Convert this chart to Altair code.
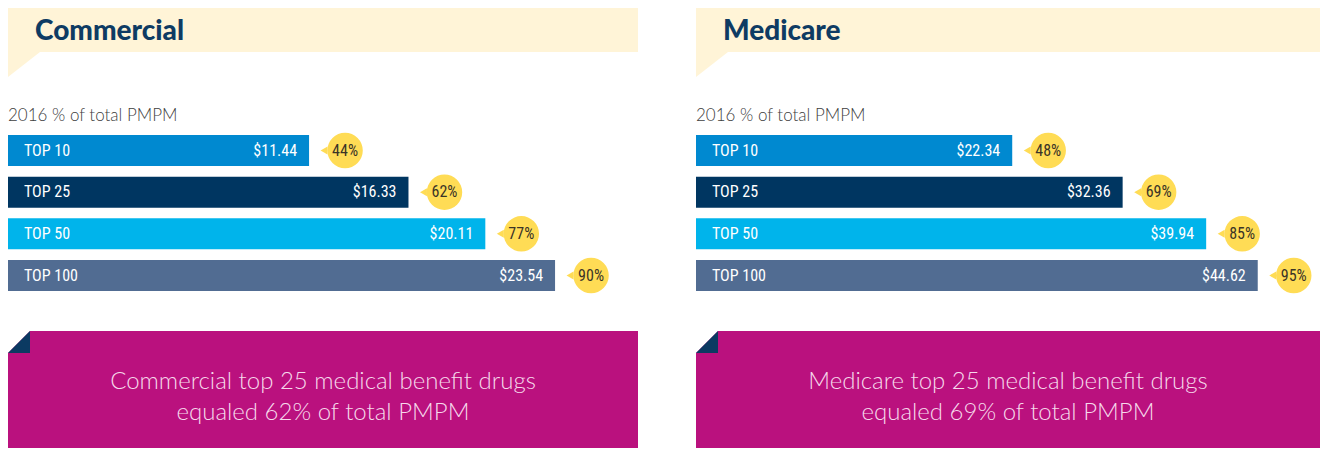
import altair as alt
import pandas as pd

# ---- data ----
tiers = ["TOP 10", "TOP 25", "TOP 50", "TOP 100"]
commercial_pmpm = [11.44, 16.33, 20.11, 23.54]
commercial_share = [44, 62, 77, 90]
medicare_pmpm = [22.34, 32.36, 39.94, 44.62]
medicare_share = [48, 69, 85, 95]
panel_titles = ["Commercial", "Medicare"]
subtitle_text = "2016 % of total PMPM"
callout_lines = [
    ["Commercial top 25 medical benefit drugs", "equaled 62% of total PMPM"],
    ["Medicare top 25 medical benefit drugs", "equaled 69% of total PMPM"],
]

# ---- styles ----
bar_colors = ["#0089D0", "#003661", "#00B4EB", "#516C92"]
BAND = "#FFF4D7"
NAVY = "#0E3B63"
BADGE = "#FFDC55"
PINK = "#BA117E"
COND = "'Liberation Sans Narrow', 'Roboto Condensed', Roboto, sans-serif"
GEO = "Lato, 'Open Sans', sans-serif"


def panel(title, pmpm, share, lines, width, dom):
    df = pd.DataFrame({"tier": tiers, "pmpm": pmpm, "share": share})
    df["dollar"] = df["pmpm"].map(lambda v: f"${v:.2f}")
    df["pct"] = df["share"].map(lambda v: f"{v}%")
    one = pd.DataFrame({"title": [title], "sub": [subtitle_text],
                        "l1": [lines[0]], "l2": [lines[1]]})
    deco = alt.Chart(one)

    # header block (height 127)
    band = deco.mark_rect(color=BAND).encode(
        x=alt.value(0), x2=alt.value(width), y=alt.value(0), y2=alt.value(44))
    tail = deco.mark_point(shape="M-1,-0.78L-1,0.78L1,-0.78Z", filled=True, color=BAND,
                           opacity=1, size=1024, strokeWidth=0).encode(
        x=alt.value(16), y=alt.value(56.5))
    ttl = deco.mark_text(align="left", baseline="alphabetic", font=GEO, fontSize=28,
                         fontWeight=900, color=NAVY).encode(
        x=alt.value(27), y=alt.value(32), text="title:N")
    sub = deco.mark_text(align="left", baseline="alphabetic", font=GEO, fontSize=17,
                         fontWeight=300, color="#404040").encode(
        x=alt.value(0), y=alt.value(113), text="sub:N")
    header = alt.layer(band, tail, ttl, sub).properties(width=width, height=127)

    # bars block (height 156)
    unit = (dom[1] - dom[0]) / width  # data units per pixel of this scale
    xs = alt.Scale(domain=dom, nice=False, zero=False)
    ys = alt.Scale(domain=tiers, paddingInner=0.256, paddingOuter=0)
    Y = alt.Y("tier:N", scale=ys, axis=None)
    base = alt.Chart(df).transform_calculate(
        base=str(dom[0]),
        tip=f"datum.pmpm + {15 * unit}",
        badge=f"datum.pmpm + {36 * unit}",
    )

    bars = base.mark_bar().encode(
        x=alt.X("pmpm:Q", scale=xs, axis=None), x2="base:Q", y=Y,
        color=alt.Color("tier:N", scale=alt.Scale(domain=tiers, range=bar_colors), legend=None))
    tier_lbl = base.mark_text(align="left", baseline="middle", dx=16, font=COND,
                              fontSize=16, color="white").encode(
        x="base:Q", y=Y, text="tier:N")
    dollar_lbl = base.mark_text(align="right", baseline="middle", dx=-12, font=COND,
                                fontSize=16, color="white").encode(
        x="pmpm:Q", y=Y, text="dollar:N")
    pointer = base.mark_point(shape="triangle-left", filled=True, size=64, color=BADGE,
                              opacity=1).encode(x="tip:Q", y=Y)
    circle = base.mark_circle(size=1257, color=BADGE, opacity=1).encode(x="badge:Q", y=Y)
    pct_lbl = base.mark_text(align="center", baseline="middle", font=COND,
                             fontSize=16, color="#3B3427").encode(x="badge:Q", y=Y, text="pct:N")
    barblock = alt.layer(bars, tier_lbl, dollar_lbl, pointer, circle, pct_lbl).properties(
        width=width, height=156)

    # callout block (height 157)
    box = deco.mark_rect(color=PINK).encode(
        x=alt.value(0), x2=alt.value(width), y=alt.value(40), y2=alt.value(157))
    corner = deco.mark_point(shape="M-1,-1L1,-1L-1,1Z", filled=True, color="white",
                             opacity=1, size=484, strokeWidth=0).encode(
        x=alt.value(11), y=alt.value(51))
    fold = deco.mark_point(shape="M-1,1L1,-1L1,1Z", filled=True, color="#0B3A62",
                           opacity=1, size=484, strokeWidth=0).encode(
        x=alt.value(11), y=alt.value(51))
    line1 = deco.mark_text(align="center", baseline="alphabetic", font=GEO, fontSize=24,
                           fontWeight=300, color="#F6D9EB").encode(
        x=alt.value(width / 2), y=alt.value(98), text="l1:N")
    line2 = deco.mark_text(align="center", baseline="alphabetic", font=GEO, fontSize=24,
                           fontWeight=300, color="#F6D9EB").encode(
        x=alt.value(width / 2), y=alt.value(129), text="l2:N")
    callout = alt.layer(box, corner, fold, line1, line2).properties(width=width, height=157)

    return alt.vconcat(header, barblock, callout, spacing=0, bounds="flush")


left = panel(panel_titles[0], commercial_pmpm, commercial_share, callout_lines[0], 630,
             [-3.369, 27.62])
right = panel(panel_titles[1], medicare_pmpm, medicare_share, callout_lines[1], 624,
              [-6.357, 50.27])

chart = alt.hconcat(left, right, spacing=58).properties(
    padding=0, background="white").configure_view(stroke=None)

chart.save("out.html", embed_options={"renderer": "svg", "actions": False})
